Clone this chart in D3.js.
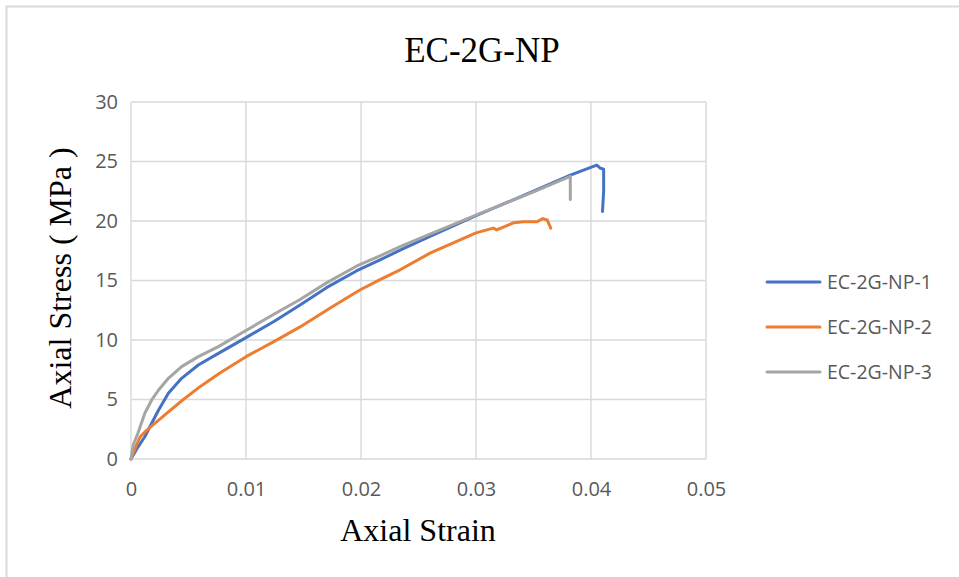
<!DOCTYPE html>
<meta charset="utf-8">
<style>
  body { margin: 0; background: #fff; }
  .tick text { font-family: "Open Sans", sans-serif; font-size: 20px; fill: #595959; }
  .ttl { font-family: "Liberation Serif", "Times New Roman", serif; fill: #000; }
  .leg text { font-family: "Open Sans", sans-serif; font-size: 19.5px; fill: #595959; }
</style>
<svg width="959" height="577"></svg>
<script src="https://d3js.org/d3.v7.min.js"></script>
<script>
// series: [strain, stress MPa]
var names = ["EC-2G-NP-1", "EC-2G-NP-2", "EC-2G-NP-3"];
var colors = ["#4472C4", "#ED7D31", "#A5A5A5"];

var np1 = [[0,0],[0.0006,1.0],[0.0012,1.87],[0.0018,3.0],[0.0024,4.12],[0.00325,5.52],[0.0044,6.78],
  [0.00585,7.9],[0.0076,8.88],[0.01,10.2],[0.0125,11.6],[0.0147,12.95],[0.017,14.4],[0.0196,15.8],
  [0.0217,16.75],[0.0234,17.55],[0.026,18.7],[0.03,20.45],[0.035,22.5],[0.0382,23.85],[0.0405,24.7],
  [0.0408,24.45],[0.0411,24.35],[0.0411,22.5],[0.041,20.8]];
var np2 = [[0,0],[0.0004,1.0],[0.0008,1.87],[0.0014,2.45],[0.0022,3.1],[0.0031,3.84],[0.0045,4.96],[0.006,6.08],
  [0.0077,7.2],[0.01,8.6],[0.0125,9.9],[0.0147,11.1],[0.0175,12.8],[0.0199,14.2],[0.0217,15.1],[0.0234,15.9],
  [0.026,17.3],[0.03,19.0],[0.0315,19.4],[0.0318,19.25],[0.0333,19.86],[0.0341,19.94],[0.0353,19.94],
  [0.0358,20.2],[0.0362,20.08],[0.0365,19.4]];
var np3 = [[0,0],[0.0002,1.2],[0.0006,2.16],[0.0012,3.84],[0.0018,4.96],[0.0024,5.8],[0.00325,6.78],
  [0.0044,7.76],[0.00585,8.6],[0.0076,9.44],[0.01,10.8],[0.0125,12.2],[0.0147,13.4],[0.017,14.8],
  [0.0196,16.2],[0.0217,17.1],[0.0234,17.85],[0.026,18.9],[0.03,20.5],[0.035,22.45],[0.0382,23.75],[0.0382,21.8]];
var seriesData = [np1, np2, np3];

var xTicks = [0, 0.01, 0.02, 0.03, 0.04, 0.05];
var yTicks = [0, 5, 10, 15, 20, 25, 30];

var svg = d3.select("svg");

// outer frame (only left and top edges show)
svg.append("path").attr("d", "M6.5,577V6.5H959")
  .attr("fill", "none").attr("stroke", "#d9d9d9").attr("stroke-width", 2);

var x = d3.scaleLinear().domain([0, 0.05]).range([131, 706]);
var y = d3.scaleLinear().domain([0, 30]).range([459, 102]);

// gridlines
var g = svg.append("g");
g.selectAll(".hg").data(yTicks).enter().append("line")
  .attr("x1", x(0)).attr("x2", x(0.05))
  .attr("y1", function(d) { return y(d); }).attr("y2", function(d) { return y(d); })
  .attr("stroke", "#d9d9d9").attr("stroke-width", 1.4);
g.selectAll(".vg").data(xTicks).enter().append("line")
  .attr("y1", y(0)).attr("y2", y(30))
  .attr("x1", function(d) { return x(d); }).attr("x2", function(d) { return x(d); })
  .attr("stroke", "#d9d9d9").attr("stroke-width", 1.4);

// axes, labels only
var xAxis = svg.append("g").attr("transform", "translate(0," + y(0) + ")")
  .call(d3.axisBottom(x).tickValues(xTicks).tickSize(0).tickPadding(23)
    .tickFormat(function(d) { return d === 0 ? "0" : d3.format(".2f")(d); }));
xAxis.select(".domain").remove();
var yAxis = svg.append("g").attr("transform", "translate(" + x(0) + ",0)")
  .call(d3.axisLeft(y).tickValues(yTicks).tickSize(0).tickPadding(13));
yAxis.select(".domain").remove();

// curves
var line = d3.line().x(function(d) { return x(d[0]); }).y(function(d) { return y(d[1]); });
svg.selectAll(".curve").data(seriesData).enter().append("path")
  .attr("class", "curve")
  .attr("d", line)
  .attr("fill", "none")
  .attr("stroke", function(d, i) { return colors[i]; })
  .attr("stroke-width", 3)
  .attr("stroke-linejoin", "round")
  .attr("stroke-linecap", "round");

// titles
svg.append("text").attr("class", "ttl").attr("x", 482).attr("y", 62)
  .attr("text-anchor", "middle").style("font-size", "35px").text("EC-2G-NP");
svg.append("text").attr("class", "ttl").attr("x", 418).attr("y", 541)
  .attr("text-anchor", "middle").style("font-size", "32px").text("Axial Strain");
svg.append("text").attr("class", "ttl")
  .attr("transform", "translate(71,278) rotate(-90)")
  .attr("text-anchor", "middle").style("font-size", "32px").text("Axial Stress ( MPa )");

// legend
var leg = svg.append("g").attr("class", "leg");
var legY = [282, 327, 372];
names.forEach(function(n, i) {
  leg.append("line").attr("x1", 767).attr("x2", 820).attr("y1", legY[i]).attr("y2", legY[i])
    .attr("stroke", colors[i]).attr("stroke-width", 3).attr("stroke-linecap", "round");
  leg.append("text").attr("x", 827).attr("y", legY[i]).attr("dy", "0.35em").text(n);
});
</script>
